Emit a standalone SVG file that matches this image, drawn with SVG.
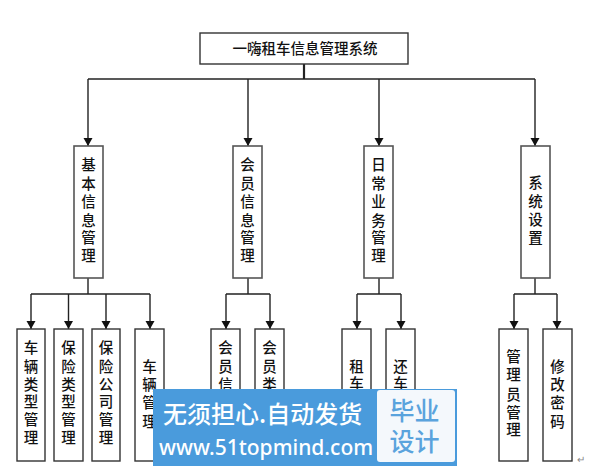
<svg xmlns="http://www.w3.org/2000/svg" width="610" height="466" viewBox="0 0 610 466">
<defs><marker id="a" markerUnits="userSpaceOnUse" markerWidth="10" markerHeight="10" refX="8" refY="4.500" orient="90"><path d="M0 0L8 4.500L0 9z" fill="#111"/></marker></defs>
<style>
.b{fill:#fff;stroke:#333;stroke-width:1.4}
.g{stroke:#555;stroke-width:1.6}
.t{font-family:"Noto Sans CJK SC","Liberation Serif",serif;font-size:14.500px;font-weight:500;fill:#111;text-anchor:middle}
.c{fill:none;stroke:#222;stroke-width:1.4}
.h{stroke-width:2.200}
.w{font-family:"Noto Sans CJK SC",sans-serif;font-weight:500}
</style>
<rect width="610" height="466" fill="#fff"/>
<g id="connectors">
<path class="c h" d="M304 64V79"/>
<path class="c" d="M88 79H535"/>
<path class="c" d="M88 79V146" marker-end="url(#a)"/>
<path class="c" d="M248 79V146" marker-end="url(#a)"/>
<path class="c" d="M379 79V146" marker-end="url(#a)"/>
<path class="c" d="M535 79V146" marker-end="url(#a)"/>
<path class="c" d="M88 278V294M31 294H150"/>
<path class="c" d="M31 294V329" marker-end="url(#a)"/>
<path class="c" d="M68.500 294V329" marker-end="url(#a)"/>
<path class="c" d="M106 294V329" marker-end="url(#a)"/>
<path class="c" d="M150 294V329" marker-end="url(#a)"/>
<path class="c" d="M248 278V294M226 294H270"/>
<path class="c" d="M226 294V329" marker-end="url(#a)"/>
<path class="c" d="M270 294V329" marker-end="url(#a)"/>
<path class="c" d="M379 278V294M357 294H401"/>
<path class="c" d="M357 294V329" marker-end="url(#a)"/>
<path class="c" d="M401 294V329" marker-end="url(#a)"/>
<path class="c" d="M535 278V294M514 294H557"/>
<path class="c" d="M514 294V329" marker-end="url(#a)"/>
<path class="c" d="M557 294V329" marker-end="url(#a)"/>
</g>
<g id="root"><rect class="b" x="200" y="33" width="208" height="31"/><text class="t" x="305" y="54">一嗨租车信息管理系统</text></g>
<g id="n1"><rect class="b g" x="74" y="146" width="29" height="132"/><text class="t" x="88.500 88.500 88.500 88.500 88.500 88.500" y="170 189 207 226 243 261">基本信息管理</text></g>
<g id="n2"><rect class="b g" x="233" y="146" width="29" height="132"/><text class="t" x="247.500 247.500 247.500 247.500 247.500 247.500" y="170 189 207 226 243 261">会员信息管理</text></g>
<g id="n3"><rect class="b g" x="364" y="146" width="29" height="132"/><text class="t" x="378.500 378.500 378.500 378.500 378.500 378.500" y="170 189 207 226 243 261">日常业务管理</text></g>
<g id="n4"><rect class="b g" x="521" y="146" width="29" height="132"/><text class="t" x="535.500 535.500 535.500 535.500" y="188 207 225 243">系统设置</text></g>
<g id="l1"><rect class="b" x="17" y="329" width="28" height="132"/><text class="t" x="31 31 31 31 31 31" y="353 372 390 407 425 443">车辆类型管理</text></g>
<g id="l2"><rect class="b" x="54" y="329" width="29" height="132"/><text class="t" x="68.500 68.500 68.500 68.500 68.500 68.500" y="353 372 390 407 425 443">保险类型管理</text></g>
<g id="l3"><rect class="b" x="92" y="329" width="28" height="132"/><text class="t" x="106 106 106 106 106 106" y="353 372 390 407 425 443">保险公司管理</text></g>
<g id="l4"><rect class="b" x="135" y="329" width="29" height="132"/><text class="t" x="149.500 149.500 149.500 149.500" y="372 390 408 427">车辆管理</text></g>
<g id="l5"><rect class="b" x="211" y="329" width="29" height="132"/><text class="t" x="225.500 225.500 225.500" y="353 372 390">会员信</text></g>
<g id="l6"><rect class="b" x="255" y="329" width="29" height="132"/><text class="t" x="269.500 269.500 269.500" y="353 372 390">会员类</text></g>
<g id="l7"><rect class="b" x="342" y="329" width="29" height="132"/><text class="t" x="356.500 356.500" y="372 389">租车</text></g>
<g id="l8"><rect class="b" x="386" y="329" width="29" height="132"/><text class="t" x="400.500 400.500" y="372 389">还车</text></g>
<g id="l9"><rect class="b" x="499" y="329" width="29" height="132"/><text class="t" x="513.500 513.500 513.500 513.500 513.500" y="362 380 400 418 435">管理员管理</text></g>
<g id="l10"><rect class="b" x="543" y="329" width="29" height="132"/><text class="t" x="557.500 557.500 557.500 557.500" y="372 390 408 427">修改密码</text></g>
<g id="watermark">
<rect x="153" y="389" width="304" height="77" fill="#4a9bdc"/>
<rect x="377" y="390" width="78" height="72" rx="3" fill="#f4f8fc"/>
<text class="w" x="163" y="423" font-size="24" fill="#fff">无须担心.自动发货</text>
<text x="159" y="455" font-family="Noto Sans,sans-serif" font-size="21" font-weight="500" fill="#fff">www.51topmind.com</text>
<text class="w" x="414.500" y="420" font-size="25" fill="#5aa3dd" text-anchor="middle">毕业</text>
<text class="w" x="414.500" y="451" font-size="25" fill="#5aa3dd" text-anchor="middle">设计</text>
</g>
<text x="577" y="463" font-family="Liberation Sans,sans-serif" font-size="10" fill="#888">↵</text>
</svg>
